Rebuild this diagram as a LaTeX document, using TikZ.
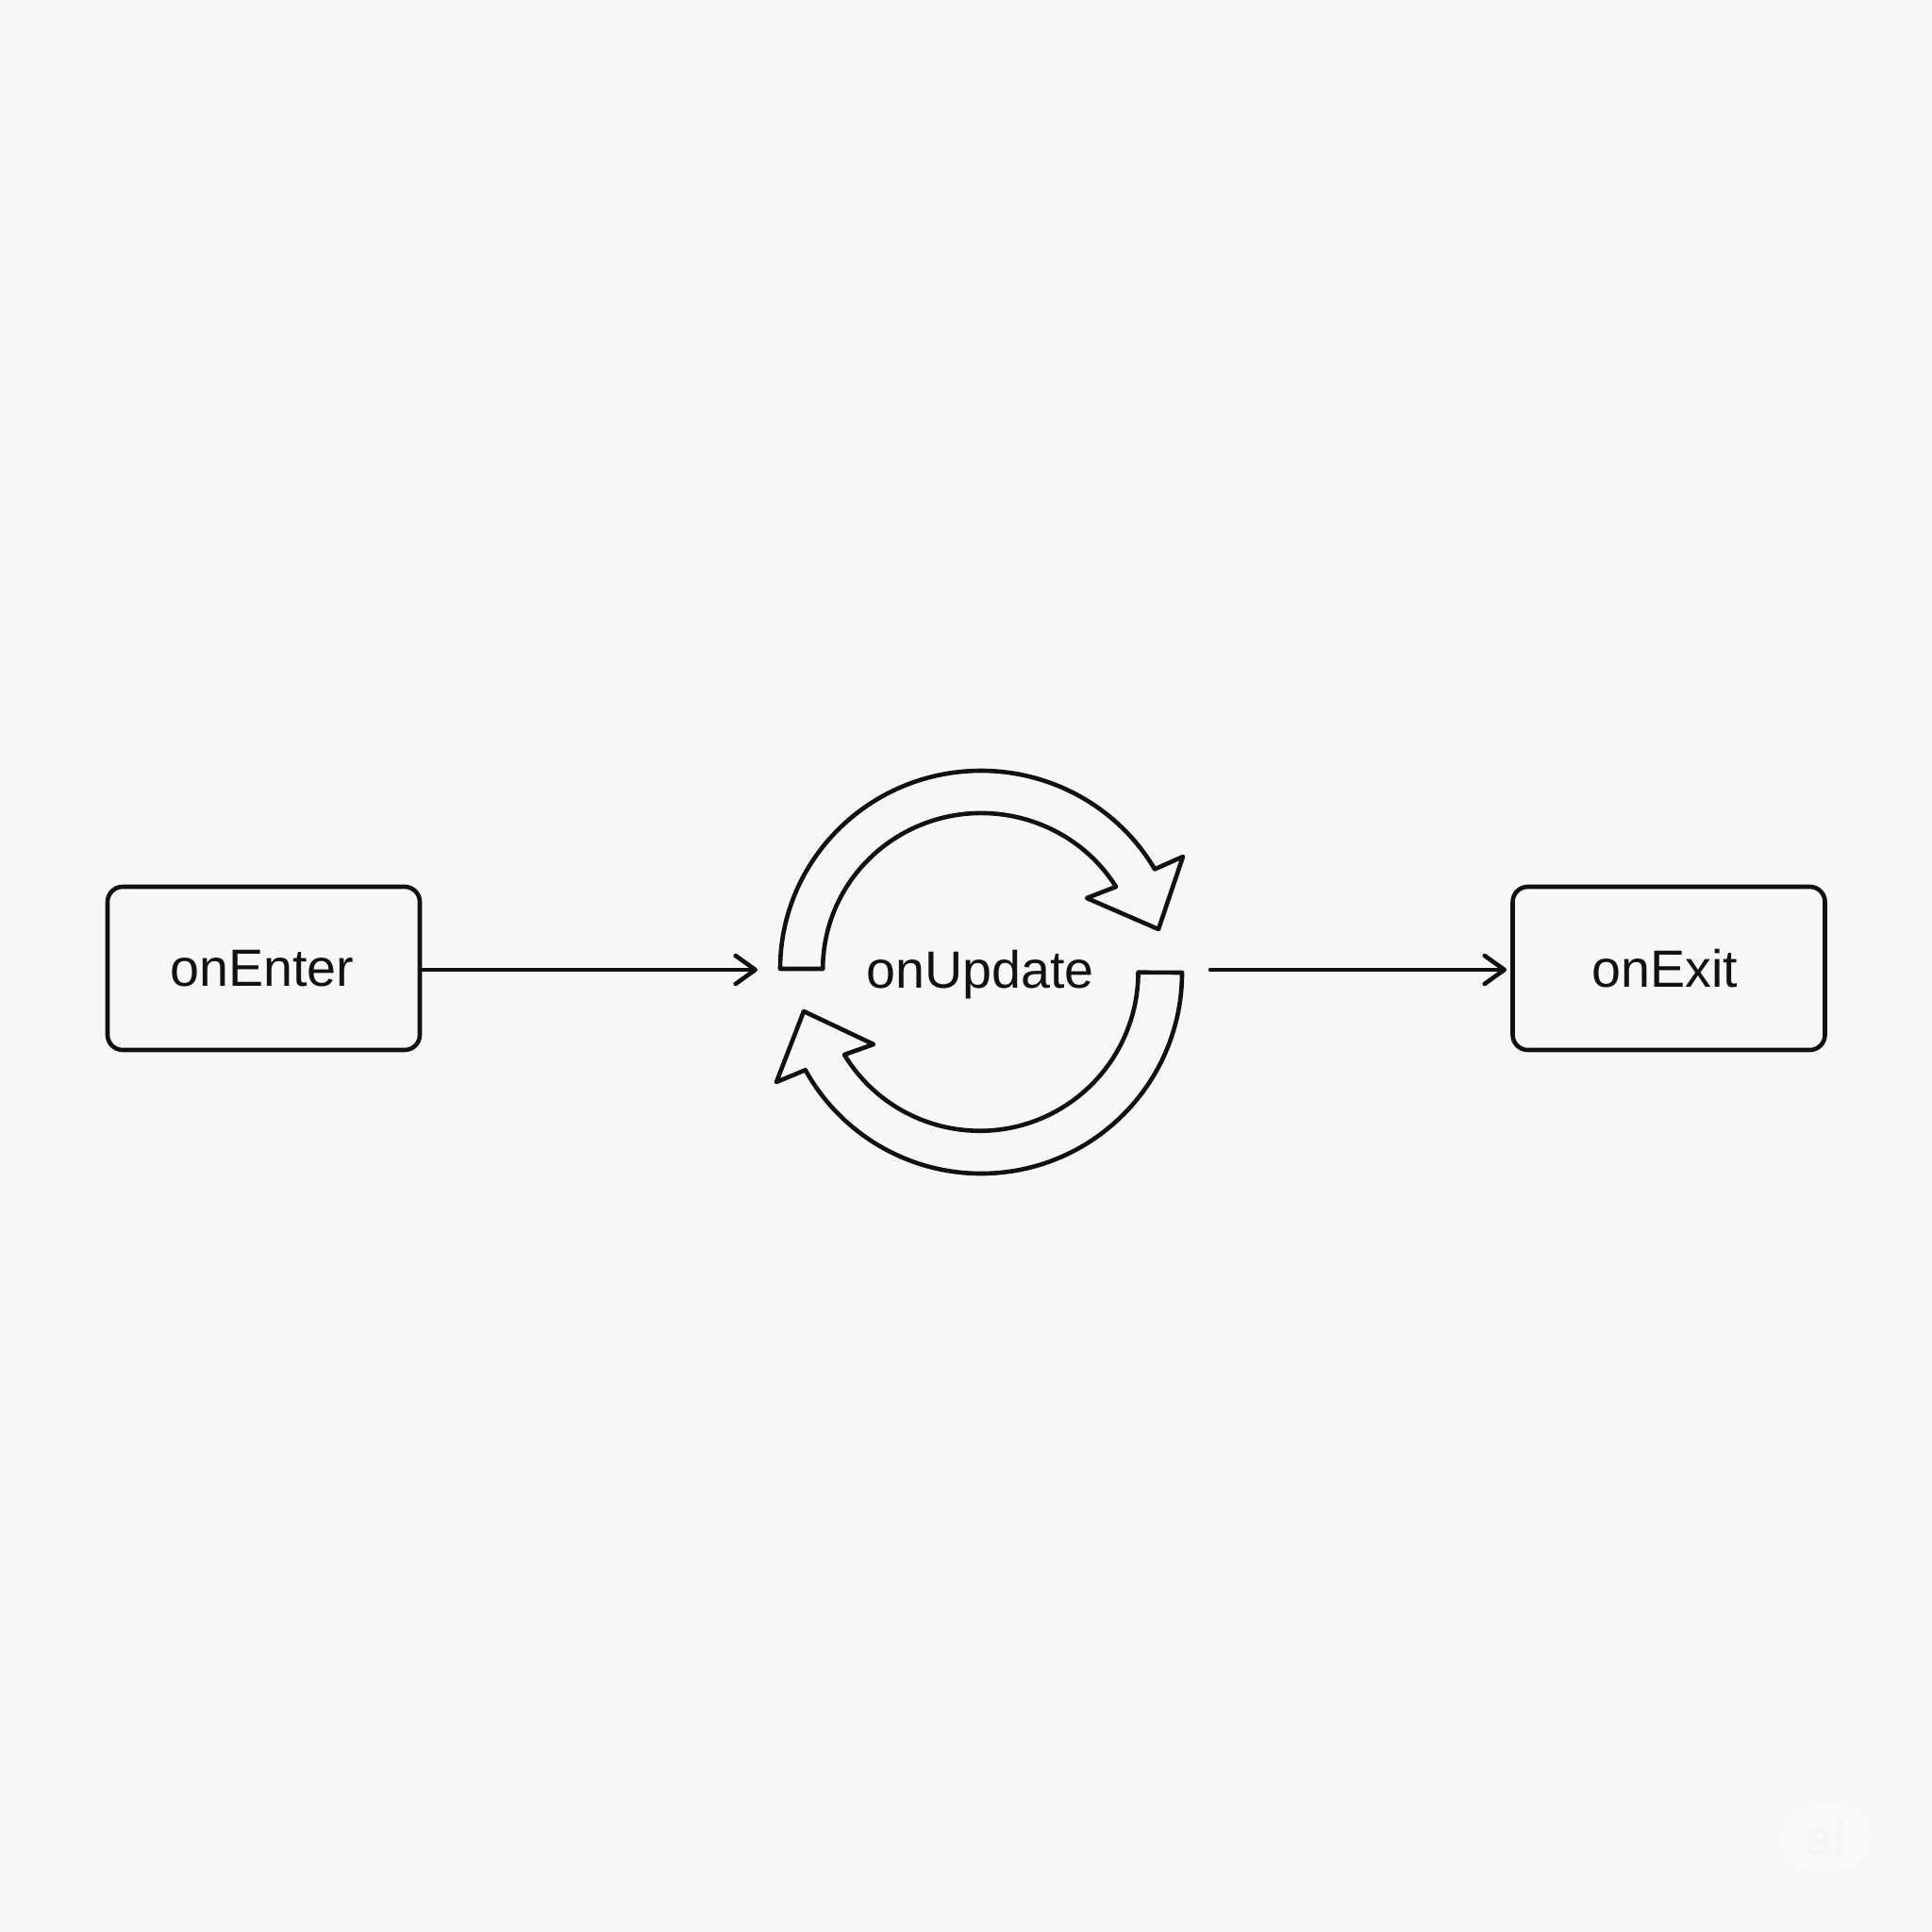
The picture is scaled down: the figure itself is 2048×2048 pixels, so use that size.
\documentclass[tikz,border=0pt]{standalone}
\usepackage{fontspec}
\setmainfont{Liberation Sans}
\usetikzlibrary{arrows.meta}
\definecolor{bgc}{HTML}{F6F8F7}
\definecolor{ink}{HTML}{111111}
\definecolor{pillc}{HTML}{F9FAF9}
\definecolor{wmc}{HTML}{F4F5F4}
\tikzset{
  every node/.style={font=\fontsize{27.8pt}{32pt}\selectfont,text=ink},
  statebox/.style={draw=ink,line width=2.3pt,rounded corners=8pt,minimum width=165.5pt,minimum height=86.5pt,inner sep=0pt,outer sep=0pt},
  label text/.style={anchor=base,inner sep=0pt},
  flow/.style={draw=ink,line width=2.3pt,line cap=round,-{Straight Barb[length=10.5pt,width=15pt,line width=2.3pt,round]}},
  loop arrow/.style={draw=ink,line width=2.3pt,line join=round}
}
\begin{document}
\begin{tikzpicture}[x=0.5pt,y=-0.5pt]
\useasboundingbox (0,0) rectangle (2048,2048);
\fill[bgc] (0,0) rectangle (2048,2048);
% watermark
\fill[pillc,rounded corners=17.5pt] (1888,1913) rectangle (1983,1983);
\node[label text,text=wmc,font=\fontsize{26pt}{30pt}\selectfont\bfseries] (wm) at (1936,1966) {ai};
% boxes
\node[statebox] (enter) at (279.5,1026.5) {};
\node[statebox] (exit) at (1769,1026.5) {};
\node[label text] (enterlabel) at (278,1045) {onEnter};
\node[label text] (exitlabel) at (1765,1046) {onExit};
\node[label text] (update) at (1039,1047) {onUpdate};
% connectors
\coordinate (flowend) at (803,1028);
\coordinate (flowstart) at (1283,1028);
\draw[flow] (enter.east |- flowend) -- (flowend);
\coordinate (exitin) at (1597,1028);
\draw[flow] (flowstart) -- (exitin);
% loop arrows
\draw[loop arrow] (827,1027) arc (180:329.8:213 and 210) -- (1254,908) -- (1228,985) -- (1152,952) -- (1183,940)
  arc (328.2:180:168 and 165) -- cycle;
\draw[loop arrow] (1253,1031) arc (0:151:213) -- (823,1147) -- (852,1072) -- (926,1107) -- (895,1118)
  arc (148.7:0:168) -- cycle;
\end{tikzpicture}
\end{document}
